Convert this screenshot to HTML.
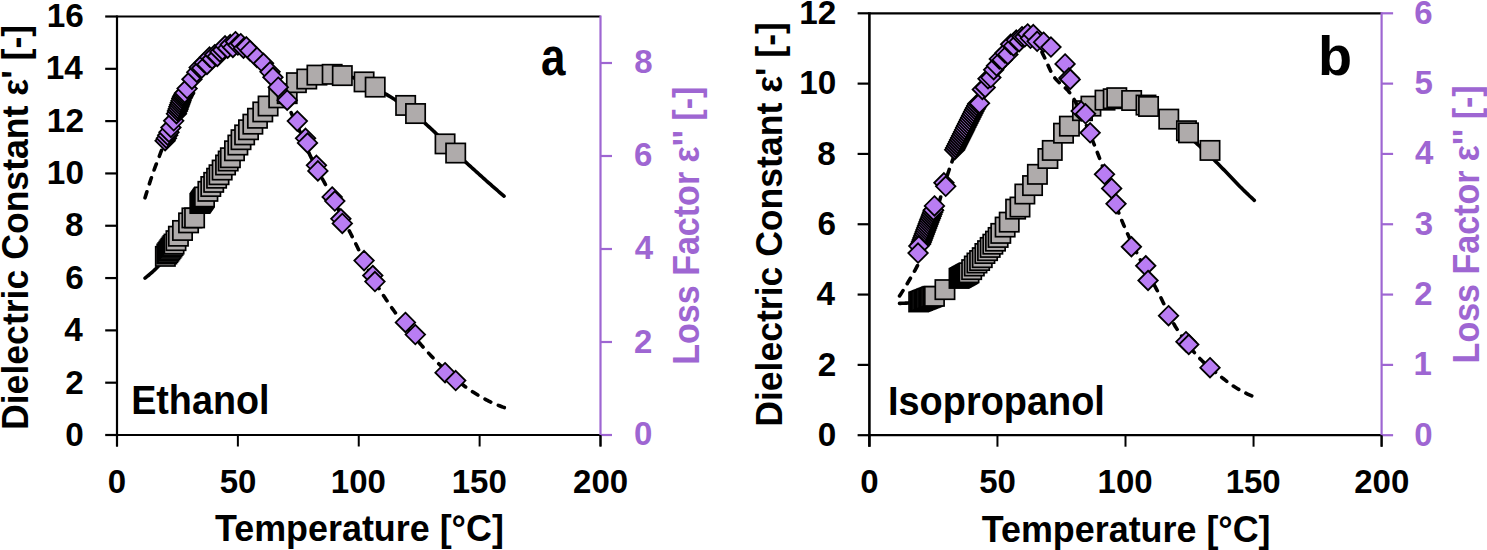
<!DOCTYPE html>
<html><head><meta charset="utf-8"><style>
html,body{margin:0;padding:0;background:#fff;width:1487px;height:550px;overflow:hidden;font-family:"Liberation Sans", sans-serif;}
</style></head><body>
<svg width="1487" height="550" viewBox="0 0 1487 550" style="position:absolute;left:0;top:0" font-family='"Liberation Sans", sans-serif' font-weight="bold">
<rect width="1487" height="550" fill="#fff"/>
<line x1="117.00" y1="16.50" x2="600.50" y2="16.50" stroke="#000" stroke-width="2.2"/>
<line x1="116.00" y1="435.00" x2="601.50" y2="435.00" stroke="#000" stroke-width="2.2"/>
<line x1="117.00" y1="435.00" x2="117.00" y2="446.50" stroke="#000" stroke-width="2.0"/>
<line x1="237.88" y1="435.00" x2="237.88" y2="446.50" stroke="#000" stroke-width="2.0"/>
<line x1="358.75" y1="435.00" x2="358.75" y2="446.50" stroke="#000" stroke-width="2.0"/>
<line x1="479.62" y1="435.00" x2="479.62" y2="446.50" stroke="#000" stroke-width="2.0"/>
<line x1="600.50" y1="435.00" x2="600.50" y2="446.50" stroke="#000" stroke-width="2.0"/>
<line x1="105.20" y1="435.00" x2="117.00" y2="435.00" stroke="#000" stroke-width="2.2"/>
<line x1="105.20" y1="382.69" x2="117.00" y2="382.69" stroke="#000" stroke-width="2.2"/>
<line x1="105.20" y1="330.38" x2="117.00" y2="330.38" stroke="#000" stroke-width="2.2"/>
<line x1="105.20" y1="278.06" x2="117.00" y2="278.06" stroke="#000" stroke-width="2.2"/>
<line x1="105.20" y1="225.75" x2="117.00" y2="225.75" stroke="#000" stroke-width="2.2"/>
<line x1="105.20" y1="173.44" x2="117.00" y2="173.44" stroke="#000" stroke-width="2.2"/>
<line x1="105.20" y1="121.12" x2="117.00" y2="121.12" stroke="#000" stroke-width="2.2"/>
<line x1="105.20" y1="68.81" x2="117.00" y2="68.81" stroke="#000" stroke-width="2.2"/>
<line x1="105.20" y1="16.50" x2="117.00" y2="16.50" stroke="#000" stroke-width="2.2"/>
<line x1="117.00" y1="15.40" x2="117.00" y2="446.50" stroke="#000" stroke-width="2.2"/>
<line x1="600.50" y1="435.00" x2="612.00" y2="435.00" stroke="#9E66D2" stroke-width="2.2"/>
<line x1="600.50" y1="342.00" x2="612.00" y2="342.00" stroke="#9E66D2" stroke-width="2.2"/>
<line x1="600.50" y1="249.00" x2="612.00" y2="249.00" stroke="#9E66D2" stroke-width="2.2"/>
<line x1="600.50" y1="156.00" x2="612.00" y2="156.00" stroke="#9E66D2" stroke-width="2.2"/>
<line x1="600.50" y1="63.00" x2="612.00" y2="63.00" stroke="#9E66D2" stroke-width="2.2"/>
<line x1="600.50" y1="15.40" x2="600.50" y2="435.00" stroke="#9E66D2" stroke-width="2.2"/>
<line x1="600.50" y1="435.00" x2="600.50" y2="446.50" stroke="#000" stroke-width="2.0"/>
<polyline points="145.04,278.06 146.24,277.15 147.44,276.20 148.64,275.23 149.85,274.22 151.05,273.18 152.25,272.11 153.45,271.01 154.65,269.89 155.85,268.75 157.05,267.57 158.25,266.35 159.45,265.09 160.65,263.80 161.85,262.47 163.05,261.12 164.25,259.73 165.45,258.32 166.65,256.89 167.86,255.44 169.06,253.97 170.26,252.48 171.46,250.98 172.66,249.45 173.86,247.90 175.06,246.34 176.26,244.75 177.46,243.14 178.66,241.51 179.86,239.86 181.06,238.19 182.26,236.49 183.46,234.77 184.66,233.03 185.87,231.27 187.07,229.48 188.27,227.67 189.47,225.84 190.67,223.96 191.87,222.01 193.07,220.01 194.27,217.95 195.47,215.84 196.67,213.69 197.87,211.51 199.07,209.30 200.27,207.07 201.47,204.83 202.67,202.57 203.88,200.32 205.08,198.06 206.28,195.82 207.48,193.60 208.68,191.40 209.88,189.23 211.08,187.09 212.28,185.00 213.48,182.96 214.68,180.96 215.88,178.97 217.08,177.00 218.28,175.04 219.48,173.09 220.68,171.15 221.89,169.23 223.09,167.32 224.29,165.42 225.49,163.53 226.69,161.66 227.89,159.79 229.09,157.94 230.29,156.09 231.49,154.26 232.69,152.44 233.89,150.62 235.09,148.82 236.29,147.02 237.49,145.23 238.69,143.45 239.90,141.65 241.10,139.84 242.30,138.03 243.50,136.21 244.70,134.39 245.90,132.58 247.10,130.78 248.30,128.99 249.50,127.22 250.70,125.47 251.90,123.74 253.10,122.04 254.30,120.38 255.50,118.75 256.70,117.16 257.91,115.61 259.11,114.11 260.31,112.66 261.51,111.27 262.71,109.93 263.91,108.61 265.11,107.30 266.31,106.01 267.51,104.74 268.71,103.49 269.91,102.25 271.11,101.05 272.31,99.86 273.51,98.70 274.71,97.57 275.92,96.47 277.12,95.39 278.32,94.35 279.52,93.35 280.72,92.38 281.92,91.45 283.12,90.55 284.32,89.70 285.52,88.89 286.72,88.11 287.92,87.35 289.12,86.58 290.32,85.81 291.52,85.06 292.72,84.31 293.93,83.58 295.13,82.86 296.33,82.16 297.53,81.49 298.73,80.84 299.93,80.23 301.13,79.65 302.33,79.10 303.53,78.60 304.73,78.14 305.93,77.72 307.13,77.36 308.33,77.05 309.53,76.80 310.73,76.61 311.94,76.44 313.14,76.27 314.34,76.11 315.54,75.95 316.74,75.80 317.94,75.65 319.14,75.51 320.34,75.38 321.54,75.26 322.74,75.15 323.94,75.04 325.14,74.94 326.34,74.86 327.54,74.78 328.74,74.72 329.95,74.66 331.15,74.62 332.35,74.59 333.55,74.57 334.75,74.57 335.95,74.59 337.15,74.65 338.35,74.73 339.55,74.85 340.75,75.00 341.95,75.17 343.15,75.36 344.35,75.58 345.55,75.82 346.75,76.08 347.96,76.35 349.16,76.64 350.36,76.94 351.56,77.26 352.76,77.58 353.96,77.91 355.16,78.25 356.36,78.59 357.56,78.93 358.76,79.28 359.96,79.65 361.16,80.07 362.36,80.54 363.56,81.06 364.76,81.61 365.97,82.20 367.17,82.82 368.37,83.48 369.57,84.15 370.77,84.85 371.97,85.57 373.17,86.31 374.37,87.05 375.57,87.80 376.77,88.56 377.97,89.31 379.17,90.07 380.37,90.81 381.57,91.54 382.77,92.26 383.98,92.97 385.18,93.69 386.38,94.40 387.58,95.13 388.78,95.85 389.98,96.59 391.18,97.33 392.38,98.08 393.58,98.83 394.78,99.59 395.98,100.37 397.18,101.15 398.38,101.94 399.58,102.74 400.78,103.56 401.99,104.38 403.19,105.22 404.39,106.07 405.59,106.94 406.79,107.82 407.99,108.71 409.19,109.63 410.39,110.57 411.59,111.53 412.79,112.51 413.99,113.51 415.19,114.52 416.39,115.54 417.59,116.58 418.79,117.64 420.00,118.70 421.20,119.77 422.40,120.85 423.60,121.94 424.80,123.03 426.00,124.13 427.20,125.23 428.40,126.33 429.60,127.44 430.80,128.54 432.00,129.64 433.20,130.76 434.40,131.89 435.60,133.04 436.80,134.20 438.01,135.36 439.21,136.54 440.41,137.72 441.61,138.91 442.81,140.10 444.01,141.30 445.21,142.49 446.41,143.69 447.61,144.88 448.81,146.07 450.01,147.25 451.21,148.43 452.41,149.60 453.61,150.76 454.81,151.91 456.02,153.05 457.22,154.18 458.42,155.31 459.62,156.43 460.82,157.55 462.02,158.67 463.22,159.79 464.42,160.90 465.62,162.01 466.82,163.11 468.02,164.22 469.22,165.32 470.42,166.41 471.62,167.51 472.82,168.60 474.03,169.69 475.23,170.78 476.43,171.86 477.63,172.95 478.83,174.03 480.03,175.11 481.23,176.18 482.43,177.26 483.63,178.33 484.83,179.40 486.03,180.47 487.23,181.53 488.43,182.60 489.63,183.66 490.83,184.72 492.04,185.77 493.24,186.82 494.44,187.88 495.64,188.92 496.84,189.97 498.04,191.01 499.24,192.05 500.44,193.09 501.64,194.13 502.84,195.16 504.04,196.19" fill="none" stroke="#000" stroke-width="3.6" stroke-linecap="round" stroke-linejoin="round"/>
<rect x="155.70" y="246.70" width="19.30" height="19.30" fill="#AFABAB" stroke="#000" stroke-width="1.7"/>
<rect x="157.15" y="244.35" width="19.30" height="19.30" fill="#AFABAB" stroke="#000" stroke-width="1.7"/>
<rect x="158.19" y="242.93" width="19.30" height="19.30" fill="#AFABAB" stroke="#000" stroke-width="1.7"/>
<rect x="159.22" y="241.51" width="19.30" height="19.30" fill="#AFABAB" stroke="#000" stroke-width="1.7"/>
<rect x="160.26" y="240.09" width="19.30" height="19.30" fill="#AFABAB" stroke="#000" stroke-width="1.7"/>
<rect x="161.29" y="238.67" width="19.30" height="19.30" fill="#AFABAB" stroke="#000" stroke-width="1.7"/>
<rect x="162.33" y="237.25" width="19.30" height="19.30" fill="#AFABAB" stroke="#000" stroke-width="1.7"/>
<rect x="163.37" y="235.83" width="19.30" height="19.30" fill="#AFABAB" stroke="#000" stroke-width="1.7"/>
<rect x="164.40" y="234.41" width="19.30" height="19.30" fill="#AFABAB" stroke="#000" stroke-width="1.7"/>
<rect x="166.34" y="231.01" width="19.30" height="19.30" fill="#AFABAB" stroke="#000" stroke-width="1.7"/>
<rect x="168.75" y="226.56" width="19.30" height="19.30" fill="#AFABAB" stroke="#000" stroke-width="1.7"/>
<rect x="172.86" y="220.81" width="19.30" height="19.30" fill="#AFABAB" stroke="#000" stroke-width="1.7"/>
<rect x="178.91" y="213.22" width="19.30" height="19.30" fill="#AFABAB" stroke="#000" stroke-width="1.7"/>
<rect x="182.29" y="208.25" width="19.30" height="19.30" fill="#AFABAB" stroke="#000" stroke-width="1.7"/>
<rect x="184.95" y="208.25" width="19.30" height="19.30" fill="#AFABAB" stroke="#000" stroke-width="1.7"/>
<rect x="190.27" y="193.87" width="19.30" height="19.30" fill="#AFABAB" stroke="#000" stroke-width="1.7"/>
<rect x="190.69" y="193.27" width="19.30" height="19.30" fill="#AFABAB" stroke="#000" stroke-width="1.7"/>
<rect x="191.11" y="192.68" width="19.30" height="19.30" fill="#AFABAB" stroke="#000" stroke-width="1.7"/>
<rect x="191.52" y="192.08" width="19.30" height="19.30" fill="#AFABAB" stroke="#000" stroke-width="1.7"/>
<rect x="191.94" y="191.49" width="19.30" height="19.30" fill="#AFABAB" stroke="#000" stroke-width="1.7"/>
<rect x="192.36" y="190.89" width="19.30" height="19.30" fill="#AFABAB" stroke="#000" stroke-width="1.7"/>
<rect x="192.78" y="190.30" width="19.30" height="19.30" fill="#AFABAB" stroke="#000" stroke-width="1.7"/>
<rect x="193.19" y="189.71" width="19.30" height="19.30" fill="#AFABAB" stroke="#000" stroke-width="1.7"/>
<rect x="193.61" y="189.11" width="19.30" height="19.30" fill="#AFABAB" stroke="#000" stroke-width="1.7"/>
<rect x="194.03" y="188.52" width="19.30" height="19.30" fill="#AFABAB" stroke="#000" stroke-width="1.7"/>
<rect x="194.45" y="187.92" width="19.30" height="19.30" fill="#AFABAB" stroke="#000" stroke-width="1.7"/>
<rect x="194.86" y="187.33" width="19.30" height="19.30" fill="#AFABAB" stroke="#000" stroke-width="1.7"/>
<rect x="198.25" y="181.69" width="19.30" height="19.30" fill="#AFABAB" stroke="#000" stroke-width="1.7"/>
<rect x="201.15" y="176.87" width="19.30" height="19.30" fill="#AFABAB" stroke="#000" stroke-width="1.7"/>
<rect x="204.05" y="172.71" width="19.30" height="19.30" fill="#AFABAB" stroke="#000" stroke-width="1.7"/>
<rect x="206.95" y="168.56" width="19.30" height="19.30" fill="#AFABAB" stroke="#000" stroke-width="1.7"/>
<rect x="209.37" y="165.10" width="19.30" height="19.30" fill="#AFABAB" stroke="#000" stroke-width="1.7"/>
<rect x="212.51" y="160.39" width="19.30" height="19.30" fill="#AFABAB" stroke="#000" stroke-width="1.7"/>
<rect x="215.90" y="155.33" width="19.30" height="19.30" fill="#AFABAB" stroke="#000" stroke-width="1.7"/>
<rect x="218.55" y="151.35" width="19.30" height="19.30" fill="#AFABAB" stroke="#000" stroke-width="1.7"/>
<rect x="220.73" y="148.09" width="19.30" height="19.30" fill="#AFABAB" stroke="#000" stroke-width="1.7"/>
<rect x="224.84" y="141.12" width="19.30" height="19.30" fill="#AFABAB" stroke="#000" stroke-width="1.7"/>
<rect x="228.22" y="135.38" width="19.30" height="19.30" fill="#AFABAB" stroke="#000" stroke-width="1.7"/>
<rect x="231.37" y="130.05" width="19.30" height="19.30" fill="#AFABAB" stroke="#000" stroke-width="1.7"/>
<rect x="234.99" y="125.24" width="19.30" height="19.30" fill="#AFABAB" stroke="#000" stroke-width="1.7"/>
<rect x="238.86" y="120.11" width="19.30" height="19.30" fill="#AFABAB" stroke="#000" stroke-width="1.7"/>
<rect x="243.21" y="114.51" width="19.30" height="19.30" fill="#AFABAB" stroke="#000" stroke-width="1.7"/>
<rect x="247.81" y="108.60" width="19.30" height="19.30" fill="#AFABAB" stroke="#000" stroke-width="1.7"/>
<rect x="253.13" y="102.27" width="19.30" height="19.30" fill="#AFABAB" stroke="#000" stroke-width="1.7"/>
<rect x="258.44" y="96.35" width="19.30" height="19.30" fill="#AFABAB" stroke="#000" stroke-width="1.7"/>
<rect x="269.08" y="88.22" width="19.30" height="19.30" fill="#AFABAB" stroke="#000" stroke-width="1.7"/>
<rect x="277.54" y="84.01" width="19.30" height="19.30" fill="#AFABAB" stroke="#000" stroke-width="1.7"/>
<rect x="286.73" y="73.03" width="19.30" height="19.30" fill="#AFABAB" stroke="#000" stroke-width="1.7"/>
<rect x="297.12" y="69.36" width="19.30" height="19.30" fill="#AFABAB" stroke="#000" stroke-width="1.7"/>
<rect x="307.28" y="65.44" width="19.30" height="19.30" fill="#AFABAB" stroke="#000" stroke-width="1.7"/>
<rect x="322.51" y="64.66" width="19.30" height="19.30" fill="#AFABAB" stroke="#000" stroke-width="1.7"/>
<rect x="332.66" y="65.96" width="19.30" height="19.30" fill="#AFABAB" stroke="#000" stroke-width="1.7"/>
<rect x="354.42" y="72.24" width="19.30" height="19.30" fill="#AFABAB" stroke="#000" stroke-width="1.7"/>
<rect x="365.54" y="77.47" width="19.30" height="19.30" fill="#AFABAB" stroke="#000" stroke-width="1.7"/>
<rect x="396.00" y="95.78" width="19.30" height="19.30" fill="#AFABAB" stroke="#000" stroke-width="1.7"/>
<rect x="405.91" y="103.89" width="19.30" height="19.30" fill="#AFABAB" stroke="#000" stroke-width="1.7"/>
<rect x="435.40" y="134.23" width="19.30" height="19.30" fill="#AFABAB" stroke="#000" stroke-width="1.7"/>
<rect x="446.04" y="143.39" width="19.30" height="19.30" fill="#AFABAB" stroke="#000" stroke-width="1.7"/>
<polyline points="145.04,197.85 146.24,193.86 147.45,189.96 148.65,186.14 149.85,182.40 151.05,178.75 152.25,175.20 153.45,171.73 154.65,168.41 155.86,165.22 157.06,162.11 158.26,159.03 159.46,155.92 160.66,152.73 161.86,149.41 163.07,145.95 164.27,142.41 165.47,138.84 166.67,135.32 167.87,131.89 169.07,128.62 170.27,125.56 171.48,122.68 172.68,119.92 173.88,117.26 175.08,114.68 176.28,112.16 177.48,109.68 178.68,107.23 179.89,104.79 181.09,102.35 182.29,99.92 183.49,97.52 184.69,95.16 185.89,92.85 187.09,90.59 188.30,88.40 189.50,86.30 190.70,84.25 191.90,82.24 193.10,80.27 194.30,78.33 195.50,76.45 196.71,74.61 197.91,72.82 199.11,71.08 200.31,69.40 201.51,67.78 202.71,66.20 203.92,64.64 205.12,63.11 206.32,61.61 207.52,60.15 208.72,58.75 209.92,57.41 211.12,56.14 212.33,54.95 213.53,53.85 214.73,52.80 215.93,51.75 217.13,50.71 218.33,49.70 219.53,48.75 220.74,47.86 221.94,47.06 223.14,46.37 224.34,45.81 225.54,45.40 226.74,45.09 227.94,44.81 229.15,44.54 230.35,44.29 231.55,44.07 232.75,43.87 233.95,43.71 235.15,43.59 236.35,43.51 237.56,43.47 238.76,43.52 239.96,43.72 241.16,44.08 242.36,44.55 243.56,45.13 244.77,45.79 245.97,46.51 247.17,47.26 248.37,48.04 249.57,48.80 250.77,49.58 251.97,50.45 253.18,51.42 254.38,52.47 255.58,53.60 256.78,54.80 257.98,56.06 259.18,57.37 260.38,58.73 261.59,60.13 262.79,61.57 263.99,63.13 265.19,64.79 266.39,66.55 267.59,68.39 268.79,70.30 270.00,72.27 271.20,74.27 272.40,76.31 273.60,78.36 274.80,80.42 276.00,82.56 277.21,84.76 278.41,87.02 279.61,89.32 280.81,91.67 282.01,94.05 283.21,96.45 284.41,98.87 285.62,101.30 286.82,103.72 288.02,106.17 289.22,108.64 290.42,111.14 291.62,113.66 292.82,116.20 294.03,118.77 295.23,121.36 296.43,123.97 297.63,126.60 298.83,129.25 300.03,131.99 301.23,134.79 302.44,137.64 303.64,140.50 304.84,143.37 306.04,146.22 307.24,149.02 308.44,151.75 309.64,154.39 310.85,156.93 312.05,159.39 313.25,161.78 314.45,164.13 315.65,166.43 316.85,168.69 318.06,170.93 319.26,173.14 320.46,175.35 321.66,177.55 322.86,179.75 324.06,181.96 325.26,184.19 326.47,186.45 327.67,188.75 328.87,191.06 330.07,193.38 331.27,195.70 332.47,198.02 333.67,200.34 334.88,202.67 336.08,205.00 337.28,207.33 338.48,209.67 339.68,212.01 340.88,214.36 342.08,216.71 343.29,219.06 344.49,221.42 345.69,223.78 346.89,226.15 348.09,228.52 349.29,230.90 350.49,233.28 351.70,235.67 352.90,238.06 354.10,240.46 355.30,242.87 356.50,245.32 357.70,247.81 358.91,250.33 360.11,252.87 361.31,255.42 362.51,257.96 363.71,260.49 364.91,262.99 366.11,265.46 367.32,267.88 368.52,270.23 369.72,272.52 370.92,274.72 372.12,276.87 373.32,278.97 374.52,281.04 375.73,283.08 376.93,285.09 378.13,287.06 379.33,289.01 380.53,290.93 381.73,292.82 382.93,294.68 384.14,296.53 385.34,298.35 386.54,300.15 387.74,301.94 388.94,303.70 390.14,305.45 391.35,307.18 392.55,308.89 393.75,310.57 394.95,312.23 396.15,313.87 397.35,315.49 398.55,317.10 399.76,318.68 400.96,320.25 402.16,321.80 403.36,323.34 404.56,324.87 405.76,326.38 406.96,327.88 408.17,329.37 409.37,330.85 410.57,332.32 411.77,333.79 412.97,335.24 414.17,336.68 415.37,338.11 416.58,339.54 417.78,340.95 418.98,342.34 420.18,343.73 421.38,345.11 422.58,346.47 423.78,347.82 424.99,349.16 426.19,350.49 427.39,351.80 428.59,353.10 429.79,354.38 430.99,355.65 432.20,356.92 433.40,358.17 434.60,359.43 435.80,360.68 437.00,361.92 438.20,363.16 439.40,364.39 440.61,365.60 441.81,366.81 443.01,368.00 444.21,369.18 445.41,370.34 446.61,371.48 447.81,372.60 449.02,373.71 450.22,374.79 451.42,375.84 452.62,376.88 453.82,377.88 455.02,378.86 456.22,379.81 457.43,380.75 458.63,381.69 459.83,382.61 461.03,383.52 462.23,384.43 463.43,385.32 464.63,386.20 465.84,387.07 467.04,387.92 468.24,388.77 469.44,389.60 470.64,390.42 471.84,391.23 473.05,392.02 474.25,392.81 475.45,393.57 476.65,394.33 477.85,395.06 479.05,395.79 480.25,396.50 481.46,397.19 482.66,397.87 483.86,398.53 485.06,399.18 486.26,399.81 487.46,400.42 488.66,401.02 489.87,401.61 491.07,402.18 492.27,402.74 493.47,403.28 494.67,403.82 495.87,404.33 497.07,404.84 498.28,405.33 499.48,405.80 500.68,406.27 501.88,406.71 503.08,407.15 504.28,407.56" fill="none" stroke="#000" stroke-width="3.6" stroke-dasharray="6.400 8.242" stroke-linecap="round" stroke-linejoin="round"/>
<path d="M165.11,130.91L174.85,140.65L165.11,150.39L155.37,140.65Z" fill="#B97DF3" stroke="#000" stroke-width="1.8" stroke-linejoin="miter"/>
<path d="M166.40,128.43L176.14,138.17L166.40,147.91L156.66,138.17Z" fill="#B97DF3" stroke="#000" stroke-width="1.8" stroke-linejoin="miter"/>
<path d="M167.69,125.53L177.43,135.27L167.69,145.01L157.95,135.27Z" fill="#B97DF3" stroke="#000" stroke-width="1.8" stroke-linejoin="miter"/>
<path d="M168.98,122.43L178.72,132.17L168.98,141.91L159.24,132.17Z" fill="#B97DF3" stroke="#000" stroke-width="1.8" stroke-linejoin="miter"/>
<path d="M170.91,117.78L180.65,127.52L170.91,137.26L161.17,127.52Z" fill="#B97DF3" stroke="#000" stroke-width="1.8" stroke-linejoin="miter"/>
<path d="M173.69,111.09L183.43,120.83L173.69,130.57L163.95,120.83Z" fill="#B97DF3" stroke="#000" stroke-width="1.8" stroke-linejoin="miter"/>
<path d="M176.47,103.98L186.21,113.72L176.47,123.46L166.73,113.72Z" fill="#B97DF3" stroke="#000" stroke-width="1.8" stroke-linejoin="miter"/>
<path d="M177.44,101.22L187.18,110.96L177.44,120.70L167.70,110.96Z" fill="#B97DF3" stroke="#000" stroke-width="1.8" stroke-linejoin="miter"/>
<path d="M178.16,99.16L187.90,108.90L178.16,118.64L168.42,108.90Z" fill="#B97DF3" stroke="#000" stroke-width="1.8" stroke-linejoin="miter"/>
<path d="M178.89,97.09L188.63,106.83L178.89,116.57L169.15,106.83Z" fill="#B97DF3" stroke="#000" stroke-width="1.8" stroke-linejoin="miter"/>
<path d="M179.61,95.02L189.35,104.76L179.61,114.50L169.87,104.76Z" fill="#B97DF3" stroke="#000" stroke-width="1.8" stroke-linejoin="miter"/>
<path d="M180.34,92.96L190.08,102.70L180.34,112.44L170.60,102.70Z" fill="#B97DF3" stroke="#000" stroke-width="1.8" stroke-linejoin="miter"/>
<path d="M181.06,90.89L190.80,100.63L181.06,110.37L171.32,100.63Z" fill="#B97DF3" stroke="#000" stroke-width="1.8" stroke-linejoin="miter"/>
<path d="M181.79,88.82L191.53,98.56L181.79,108.30L172.05,98.56Z" fill="#B97DF3" stroke="#000" stroke-width="1.8" stroke-linejoin="miter"/>
<path d="M182.51,87.25L192.25,96.99L182.51,106.73L172.77,96.99Z" fill="#B97DF3" stroke="#000" stroke-width="1.8" stroke-linejoin="miter"/>
<path d="M183.24,85.92L192.98,95.66L183.24,105.40L173.50,95.66Z" fill="#B97DF3" stroke="#000" stroke-width="1.8" stroke-linejoin="miter"/>
<path d="M183.96,84.59L193.70,94.33L183.96,104.07L174.22,94.33Z" fill="#B97DF3" stroke="#000" stroke-width="1.8" stroke-linejoin="miter"/>
<path d="M184.69,83.26L194.43,93.00L184.69,102.74L174.95,93.00Z" fill="#B97DF3" stroke="#000" stroke-width="1.8" stroke-linejoin="miter"/>
<path d="M187.11,78.83L196.85,88.57L187.11,98.31L177.37,88.57Z" fill="#B97DF3" stroke="#000" stroke-width="1.8" stroke-linejoin="miter"/>
<path d="M191.94,69.51L201.68,79.25L191.94,88.99L182.20,79.25Z" fill="#B97DF3" stroke="#000" stroke-width="1.8" stroke-linejoin="miter"/>
<path d="M196.78,62.42L206.52,72.16L196.78,81.90L187.04,72.16Z" fill="#B97DF3" stroke="#000" stroke-width="1.8" stroke-linejoin="miter"/>
<path d="M199.19,57.72L208.94,67.46L199.19,77.20L189.45,67.46Z" fill="#B97DF3" stroke="#000" stroke-width="1.8" stroke-linejoin="miter"/>
<path d="M201.79,58.36L211.53,68.10L201.79,77.84L192.05,68.10Z" fill="#B97DF3" stroke="#000" stroke-width="1.8" stroke-linejoin="miter"/>
<path d="M204.38,52.97L214.12,62.71L204.38,72.45L194.64,62.71Z" fill="#B97DF3" stroke="#000" stroke-width="1.8" stroke-linejoin="miter"/>
<path d="M206.97,54.70L216.71,64.44L206.97,74.18L197.23,64.44Z" fill="#B97DF3" stroke="#000" stroke-width="1.8" stroke-linejoin="miter"/>
<path d="M209.56,47.32L219.30,57.06L209.56,66.80L199.82,57.06Z" fill="#B97DF3" stroke="#000" stroke-width="1.8" stroke-linejoin="miter"/>
<path d="M212.15,49.06L221.89,58.80L212.15,68.54L202.41,58.80Z" fill="#B97DF3" stroke="#000" stroke-width="1.8" stroke-linejoin="miter"/>
<path d="M214.74,44.94L224.48,54.68L214.74,64.42L205.00,54.68Z" fill="#B97DF3" stroke="#000" stroke-width="1.8" stroke-linejoin="miter"/>
<path d="M217.33,46.64L227.07,56.38L217.33,66.12L207.59,56.38Z" fill="#B97DF3" stroke="#000" stroke-width="1.8" stroke-linejoin="miter"/>
<path d="M219.92,42.14L229.66,51.88L219.92,61.62L210.18,51.88Z" fill="#B97DF3" stroke="#000" stroke-width="1.8" stroke-linejoin="miter"/>
<path d="M222.51,40.25L232.25,49.99L222.51,59.73L212.77,49.99Z" fill="#B97DF3" stroke="#000" stroke-width="1.8" stroke-linejoin="miter"/>
<path d="M225.10,36.09L234.84,45.83L225.10,55.57L215.36,45.83Z" fill="#B97DF3" stroke="#000" stroke-width="1.8" stroke-linejoin="miter"/>
<path d="M227.69,38.40L237.43,48.14L227.69,57.88L217.95,48.14Z" fill="#B97DF3" stroke="#000" stroke-width="1.8" stroke-linejoin="miter"/>
<path d="M230.28,34.87L240.02,44.61L230.28,54.35L220.54,44.61Z" fill="#B97DF3" stroke="#000" stroke-width="1.8" stroke-linejoin="miter"/>
<path d="M232.87,37.68L242.61,47.42L232.87,57.16L223.13,47.42Z" fill="#B97DF3" stroke="#000" stroke-width="1.8" stroke-linejoin="miter"/>
<path d="M235.46,31.93L245.20,41.67L235.46,51.41L225.72,41.67Z" fill="#B97DF3" stroke="#000" stroke-width="1.8" stroke-linejoin="miter"/>
<path d="M237.88,35.31L247.62,45.05L237.88,54.79L228.13,45.05Z" fill="#B97DF3" stroke="#000" stroke-width="1.8" stroke-linejoin="miter"/>
<path d="M240.70,33.96L250.44,43.70L240.70,53.44L230.96,43.70Z" fill="#B97DF3" stroke="#000" stroke-width="1.8" stroke-linejoin="miter"/>
<path d="M243.52,38.47L253.26,48.21L243.52,57.95L233.78,48.21Z" fill="#B97DF3" stroke="#000" stroke-width="1.8" stroke-linejoin="miter"/>
<path d="M246.34,37.12L256.08,46.86L246.34,56.60L236.60,46.86Z" fill="#B97DF3" stroke="#000" stroke-width="1.8" stroke-linejoin="miter"/>
<path d="M249.96,40.94L259.70,50.68L249.96,60.42L240.22,50.68Z" fill="#B97DF3" stroke="#000" stroke-width="1.8" stroke-linejoin="miter"/>
<path d="M256.97,47.65L266.71,57.39L256.97,67.13L247.23,57.39Z" fill="#B97DF3" stroke="#000" stroke-width="1.8" stroke-linejoin="miter"/>
<path d="M263.50,53.58L273.24,63.32L263.50,73.06L253.76,63.32Z" fill="#B97DF3" stroke="#000" stroke-width="1.8" stroke-linejoin="miter"/>
<path d="M270.03,62.10L279.77,71.84L270.03,81.58L260.29,71.84Z" fill="#B97DF3" stroke="#000" stroke-width="1.8" stroke-linejoin="miter"/>
<path d="M272.93,67.51L282.67,77.25L272.93,86.99L263.19,77.25Z" fill="#B97DF3" stroke="#000" stroke-width="1.8" stroke-linejoin="miter"/>
<path d="M278.25,77.44L287.99,87.18L278.25,96.92L268.51,87.18Z" fill="#B97DF3" stroke="#000" stroke-width="1.8" stroke-linejoin="miter"/>
<path d="M287.19,90.46L296.93,100.20L287.19,109.94L277.45,100.20Z" fill="#B97DF3" stroke="#000" stroke-width="1.8" stroke-linejoin="miter"/>
<path d="M297.35,111.39L307.09,121.12L297.35,130.87L287.61,121.12Z" fill="#B97DF3" stroke="#000" stroke-width="1.8" stroke-linejoin="miter"/>
<path d="M305.56,128.59L315.31,138.33L305.56,148.07L295.82,138.33Z" fill="#B97DF3" stroke="#000" stroke-width="1.8" stroke-linejoin="miter"/>
<path d="M307.50,133.24L317.24,142.98L307.50,152.72L297.76,142.98Z" fill="#B97DF3" stroke="#000" stroke-width="1.8" stroke-linejoin="miter"/>
<path d="M316.44,155.56L326.18,165.30L316.44,175.04L306.70,165.30Z" fill="#B97DF3" stroke="#000" stroke-width="1.8" stroke-linejoin="miter"/>
<path d="M317.89,161.14L327.63,170.88L317.89,180.62L308.15,170.88Z" fill="#B97DF3" stroke="#000" stroke-width="1.8" stroke-linejoin="miter"/>
<path d="M332.16,187.18L341.90,196.92L332.16,206.66L322.42,196.92Z" fill="#B97DF3" stroke="#000" stroke-width="1.8" stroke-linejoin="miter"/>
<path d="M334.82,191.36L344.56,201.10L334.82,210.84L325.08,201.10Z" fill="#B97DF3" stroke="#000" stroke-width="1.8" stroke-linejoin="miter"/>
<path d="M340.86,209.03L350.60,218.77L340.86,228.51L331.12,218.77Z" fill="#B97DF3" stroke="#000" stroke-width="1.8" stroke-linejoin="miter"/>
<path d="M342.31,213.69L352.05,223.43L342.31,233.17L332.57,223.43Z" fill="#B97DF3" stroke="#000" stroke-width="1.8" stroke-linejoin="miter"/>
<path d="M364.07,250.88L373.81,260.62L364.07,270.37L354.33,260.62Z" fill="#B97DF3" stroke="#000" stroke-width="1.8" stroke-linejoin="miter"/>
<path d="M372.77,265.76L382.51,275.50L372.77,285.25L363.03,275.50Z" fill="#B97DF3" stroke="#000" stroke-width="1.8" stroke-linejoin="miter"/>
<path d="M374.95,271.81L384.69,281.55L374.95,291.29L365.21,281.55Z" fill="#B97DF3" stroke="#000" stroke-width="1.8" stroke-linejoin="miter"/>
<path d="M405.41,312.73L415.15,322.47L405.41,332.21L395.67,322.47Z" fill="#B97DF3" stroke="#000" stroke-width="1.8" stroke-linejoin="miter"/>
<path d="M415.32,324.82L425.06,334.56L415.32,344.30L405.58,334.56Z" fill="#B97DF3" stroke="#000" stroke-width="1.8" stroke-linejoin="miter"/>
<path d="M445.05,362.95L454.79,372.69L445.05,382.43L435.31,372.69Z" fill="#B97DF3" stroke="#000" stroke-width="1.8" stroke-linejoin="miter"/>
<path d="M455.69,370.86L465.43,380.60L455.69,390.34L445.95,380.60Z" fill="#B97DF3" stroke="#000" stroke-width="1.8" stroke-linejoin="miter"/>
<text transform="translate(65.35,445.65) scale(1.0000,1)" font-size="33.30" fill="#000">0</text>
<text transform="translate(65.35,393.50) scale(1.0000,1)" font-size="33.30" fill="#000">2</text>
<text transform="translate(64.19,341.02) scale(1.0000,1)" font-size="33.30" fill="#000">4</text>
<text transform="translate(65.18,288.71) scale(1.0000,1)" font-size="33.30" fill="#000">6</text>
<text transform="translate(65.02,236.40) scale(1.0000,1)" font-size="33.30" fill="#000">8</text>
<text transform="translate(46.87,184.08) scale(1.0000,1)" font-size="33.30" fill="#000">10</text>
<text transform="translate(46.87,131.94) scale(1.0000,1)" font-size="33.30" fill="#000">12</text>
<text transform="translate(45.70,79.46) scale(1.0000,1)" font-size="33.30" fill="#000">14</text>
<text transform="translate(46.70,27.15) scale(1.0000,1)" font-size="33.30" fill="#000">16</text>
<text transform="translate(107.84,493.34) scale(1.0000,1)" font-size="33.00" fill="#000">0</text>
<text transform="translate(219.68,493.34) scale(1.0000,1)" font-size="33.00" fill="#000">50</text>
<text transform="translate(330.87,493.34) scale(1.0000,1)" font-size="33.00" fill="#000">100</text>
<text transform="translate(451.74,493.34) scale(1.0000,1)" font-size="33.00" fill="#000">150</text>
<text transform="translate(573.07,493.34) scale(1.0000,1)" font-size="33.00" fill="#000">200</text>
<text transform="translate(633.88,445.34) scale(1.0000,1)" font-size="33.00" fill="#9E66D2">0</text>
<text transform="translate(634.05,352.51) scale(1.0000,1)" font-size="33.00" fill="#9E66D2">2</text>
<text transform="translate(634.71,259.34) scale(1.0000,1)" font-size="33.00" fill="#9E66D2">4</text>
<text transform="translate(633.96,166.34) scale(1.0000,1)" font-size="33.00" fill="#9E66D2">6</text>
<text transform="translate(634.13,73.34) scale(1.0000,1)" font-size="33.00" fill="#9E66D2">8</text>
<text transform="translate(214.95,540.70) scale(0.9626,1)" font-size="37.30" fill="#000">Temperature [°C]</text>
<text transform="translate(28.00,430.00) rotate(-90) scale(0.9547,1)" font-size="37.30" fill="#000">Dielectric Constant ε' [-]</text>
<text transform="translate(699.20,364.70) rotate(-90) scale(0.9125,1)" font-size="37.30" fill="#9E66D2">Loss Factor ε'' [-]</text>
<text transform="translate(541.08,74.80) scale(0.8451,1)" font-size="52.00" fill="#000">a</text>
<text transform="translate(131.15,414.00) scale(0.9271,1)" font-size="40.70" fill="#000">Ethanol</text>
<line x1="869.40" y1="13.30" x2="1381.60" y2="13.30" stroke="#000" stroke-width="2.2"/>
<line x1="868.40" y1="435.20" x2="1382.60" y2="435.20" stroke="#000" stroke-width="2.2"/>
<line x1="869.40" y1="435.20" x2="869.40" y2="446.70" stroke="#000" stroke-width="2.0"/>
<line x1="997.45" y1="435.20" x2="997.45" y2="446.70" stroke="#000" stroke-width="2.0"/>
<line x1="1125.50" y1="435.20" x2="1125.50" y2="446.70" stroke="#000" stroke-width="2.0"/>
<line x1="1253.55" y1="435.20" x2="1253.55" y2="446.70" stroke="#000" stroke-width="2.0"/>
<line x1="1381.60" y1="435.20" x2="1381.60" y2="446.70" stroke="#000" stroke-width="2.0"/>
<line x1="857.60" y1="435.20" x2="869.40" y2="435.20" stroke="#000" stroke-width="2.2"/>
<line x1="857.60" y1="364.88" x2="869.40" y2="364.88" stroke="#000" stroke-width="2.2"/>
<line x1="857.60" y1="294.57" x2="869.40" y2="294.57" stroke="#000" stroke-width="2.2"/>
<line x1="857.60" y1="224.25" x2="869.40" y2="224.25" stroke="#000" stroke-width="2.2"/>
<line x1="857.60" y1="153.93" x2="869.40" y2="153.93" stroke="#000" stroke-width="2.2"/>
<line x1="857.60" y1="83.62" x2="869.40" y2="83.62" stroke="#000" stroke-width="2.2"/>
<line x1="857.60" y1="13.30" x2="869.40" y2="13.30" stroke="#000" stroke-width="2.2"/>
<line x1="869.40" y1="12.20" x2="869.40" y2="446.70" stroke="#000" stroke-width="2.6"/>
<line x1="1381.60" y1="435.20" x2="1393.10" y2="435.20" stroke="#9E66D2" stroke-width="2.2"/>
<line x1="1381.60" y1="364.88" x2="1393.10" y2="364.88" stroke="#9E66D2" stroke-width="2.2"/>
<line x1="1381.60" y1="294.57" x2="1393.10" y2="294.57" stroke="#9E66D2" stroke-width="2.2"/>
<line x1="1381.60" y1="224.25" x2="1393.10" y2="224.25" stroke="#9E66D2" stroke-width="2.2"/>
<line x1="1381.60" y1="153.93" x2="1393.10" y2="153.93" stroke="#9E66D2" stroke-width="2.2"/>
<line x1="1381.60" y1="83.62" x2="1393.10" y2="83.62" stroke="#9E66D2" stroke-width="2.2"/>
<line x1="1381.60" y1="13.30" x2="1393.10" y2="13.30" stroke="#9E66D2" stroke-width="2.2"/>
<line x1="1381.60" y1="12.20" x2="1381.60" y2="435.20" stroke="#9E66D2" stroke-width="2.2"/>
<line x1="1381.60" y1="435.20" x2="1381.60" y2="446.70" stroke="#000" stroke-width="2.0"/>
<polyline points="899.52,303.36 900.70,303.35 901.89,303.32 903.08,303.27 904.26,303.22 905.45,303.15 906.64,303.08 907.82,303.00 909.01,302.91 910.20,302.79 911.38,302.65 912.57,302.48 913.76,302.29 914.94,302.08 916.13,301.85 917.32,301.61 918.50,301.36 919.69,301.10 920.88,300.84 922.06,300.54 923.25,300.21 924.44,299.85 925.62,299.46 926.81,299.04 928.00,298.60 929.18,298.14 930.37,297.65 931.56,297.15 932.74,296.63 933.93,296.09 935.12,295.51 936.30,294.87 937.49,294.20 938.68,293.49 939.86,292.75 941.05,291.98 942.24,291.21 943.42,290.43 944.61,289.64 945.80,288.87 946.98,288.11 948.17,287.34 949.36,286.56 950.54,285.78 951.73,284.99 952.92,284.19 954.10,283.37 955.29,282.54 956.48,281.70 957.66,280.83 958.85,279.94 960.04,279.04 961.22,278.12 962.41,277.18 963.60,276.23 964.78,275.25 965.97,274.25 967.15,273.23 968.34,272.18 969.53,271.10 970.71,269.99 971.90,268.84 973.09,267.65 974.27,266.41 975.46,265.12 976.65,263.80 977.83,262.43 979.02,261.04 980.21,259.62 981.39,258.17 982.58,256.71 983.77,255.23 984.95,253.75 986.14,252.23 987.33,250.68 988.51,249.10 989.70,247.49 990.89,245.86 992.07,244.21 993.26,242.54 994.45,240.86 995.63,239.16 996.82,237.46 998.01,235.75 999.19,234.02 1000.38,232.28 1001.57,230.51 1002.75,228.73 1003.94,226.93 1005.13,225.12 1006.31,223.31 1007.50,221.48 1008.69,219.65 1009.87,217.81 1011.06,215.97 1012.25,214.10 1013.43,212.22 1014.62,210.33 1015.81,208.43 1016.99,206.53 1018.18,204.62 1019.37,202.71 1020.55,200.81 1021.74,198.92 1022.93,197.04 1024.11,195.17 1025.30,193.30 1026.49,191.44 1027.67,189.58 1028.86,187.73 1030.05,185.87 1031.23,184.02 1032.42,182.17 1033.61,180.32 1034.79,178.46 1035.98,176.61 1037.17,174.74 1038.35,172.87 1039.54,170.99 1040.73,169.11 1041.91,167.24 1043.10,165.36 1044.29,163.50 1045.47,161.65 1046.66,159.81 1047.85,158.00 1049.03,156.20 1050.22,154.41 1051.41,152.62 1052.59,150.84 1053.78,149.07 1054.97,147.31 1056.15,145.57 1057.34,143.86 1058.53,142.17 1059.71,140.51 1060.90,138.89 1062.09,137.30 1063.27,135.72 1064.46,134.17 1065.64,132.63 1066.83,131.11 1068.02,129.62 1069.20,128.15 1070.39,126.72 1071.58,125.32 1072.76,123.97 1073.95,122.65 1075.14,121.37 1076.32,120.10 1077.51,118.85 1078.70,117.62 1079.88,116.42 1081.07,115.25 1082.26,114.12 1083.44,113.02 1084.63,111.98 1085.82,110.99 1087.00,110.05 1088.19,109.14 1089.38,108.25 1090.56,107.38 1091.75,106.52 1092.94,105.70 1094.12,104.92 1095.31,104.18 1096.50,103.50 1097.68,102.88 1098.87,102.32 1100.06,101.83 1101.24,101.38 1102.43,100.91 1103.62,100.46 1104.80,100.03 1105.99,99.63 1107.18,99.26 1108.36,98.95 1109.55,98.69 1110.74,98.51 1111.92,98.40 1113.11,98.38 1114.30,98.41 1115.48,98.45 1116.67,98.52 1117.86,98.60 1119.04,98.70 1120.23,98.82 1121.42,98.94 1122.60,99.08 1123.79,99.22 1124.98,99.37 1126.16,99.53 1127.35,99.73 1128.54,99.97 1129.72,100.25 1130.91,100.56 1132.10,100.90 1133.28,101.27 1134.47,101.65 1135.66,102.04 1136.84,102.45 1138.03,102.86 1139.22,103.28 1140.40,103.74 1141.59,104.22 1142.78,104.74 1143.96,105.28 1145.15,105.85 1146.34,106.44 1147.52,107.04 1148.71,107.65 1149.90,108.28 1151.08,108.92 1152.27,109.57 1153.46,110.25 1154.64,110.95 1155.83,111.68 1157.02,112.42 1158.20,113.19 1159.39,113.96 1160.57,114.75 1161.76,115.55 1162.95,116.36 1164.13,117.17 1165.32,117.99 1166.51,118.83 1167.69,119.68 1168.88,120.54 1170.07,121.42 1171.25,122.31 1172.44,123.21 1173.63,124.11 1174.81,125.03 1176.00,125.95 1177.19,126.88 1178.37,127.81 1179.56,128.76 1180.75,129.71 1181.93,130.68 1183.12,131.65 1184.31,132.63 1185.49,133.63 1186.68,134.63 1187.87,135.63 1189.05,136.65 1190.24,137.68 1191.43,138.71 1192.61,139.76 1193.80,140.82 1194.99,141.89 1196.17,142.97 1197.36,144.06 1198.55,145.15 1199.73,146.24 1200.92,147.35 1202.11,148.45 1203.29,149.56 1204.48,150.68 1205.67,151.80 1206.85,152.93 1208.04,154.06 1209.23,155.20 1210.41,156.35 1211.60,157.50 1212.79,158.66 1213.97,159.82 1215.16,160.99 1216.35,162.17 1217.53,163.35 1218.72,164.54 1219.91,165.74 1221.09,166.95 1222.28,168.16 1223.47,169.37 1224.65,170.59 1225.84,171.81 1227.03,173.03 1228.21,174.25 1229.40,175.49 1230.59,176.73 1231.77,177.98 1232.96,179.24 1234.15,180.49 1235.33,181.75 1236.52,182.99 1237.71,184.23 1238.89,185.46 1240.08,186.66 1241.27,187.85 1242.45,189.03 1243.64,190.20 1244.83,191.36 1246.01,192.52 1247.20,193.66 1248.39,194.80 1249.57,195.93 1250.76,197.04 1251.95,198.15 1253.13,199.25 1254.32,200.34" fill="none" stroke="#000" stroke-width="3.6" stroke-linecap="round" stroke-linejoin="round"/>
<rect x="909.05" y="292.30" width="19.30" height="19.30" fill="#AFABAB" stroke="#000" stroke-width="1.7"/>
<rect x="910.34" y="291.79" width="19.30" height="19.30" fill="#AFABAB" stroke="#000" stroke-width="1.7"/>
<rect x="911.63" y="291.28" width="19.30" height="19.30" fill="#AFABAB" stroke="#000" stroke-width="1.7"/>
<rect x="912.93" y="290.77" width="19.30" height="19.30" fill="#AFABAB" stroke="#000" stroke-width="1.7"/>
<rect x="914.22" y="290.25" width="19.30" height="19.30" fill="#AFABAB" stroke="#000" stroke-width="1.7"/>
<rect x="915.51" y="289.74" width="19.30" height="19.30" fill="#AFABAB" stroke="#000" stroke-width="1.7"/>
<rect x="916.80" y="289.23" width="19.30" height="19.30" fill="#AFABAB" stroke="#000" stroke-width="1.7"/>
<rect x="918.09" y="288.72" width="19.30" height="19.30" fill="#AFABAB" stroke="#000" stroke-width="1.7"/>
<rect x="919.39" y="288.21" width="19.30" height="19.30" fill="#AFABAB" stroke="#000" stroke-width="1.7"/>
<rect x="920.68" y="287.70" width="19.30" height="19.30" fill="#AFABAB" stroke="#000" stroke-width="1.7"/>
<rect x="921.97" y="287.19" width="19.30" height="19.30" fill="#AFABAB" stroke="#000" stroke-width="1.7"/>
<rect x="923.26" y="286.67" width="19.30" height="19.30" fill="#AFABAB" stroke="#000" stroke-width="1.7"/>
<rect x="924.80" y="286.67" width="19.30" height="19.30" fill="#AFABAB" stroke="#000" stroke-width="1.7"/>
<rect x="935.30" y="279.99" width="19.30" height="19.30" fill="#AFABAB" stroke="#000" stroke-width="1.7"/>
<rect x="949.38" y="268.74" width="19.30" height="19.30" fill="#AFABAB" stroke="#000" stroke-width="1.7"/>
<rect x="950.20" y="268.30" width="19.30" height="19.30" fill="#AFABAB" stroke="#000" stroke-width="1.7"/>
<rect x="951.01" y="267.85" width="19.30" height="19.30" fill="#AFABAB" stroke="#000" stroke-width="1.7"/>
<rect x="951.83" y="267.40" width="19.30" height="19.30" fill="#AFABAB" stroke="#000" stroke-width="1.7"/>
<rect x="952.64" y="266.95" width="19.30" height="19.30" fill="#AFABAB" stroke="#000" stroke-width="1.7"/>
<rect x="953.46" y="266.51" width="19.30" height="19.30" fill="#AFABAB" stroke="#000" stroke-width="1.7"/>
<rect x="954.27" y="266.06" width="19.30" height="19.30" fill="#AFABAB" stroke="#000" stroke-width="1.7"/>
<rect x="955.09" y="265.61" width="19.30" height="19.30" fill="#AFABAB" stroke="#000" stroke-width="1.7"/>
<rect x="955.90" y="265.16" width="19.30" height="19.30" fill="#AFABAB" stroke="#000" stroke-width="1.7"/>
<rect x="956.72" y="264.72" width="19.30" height="19.30" fill="#AFABAB" stroke="#000" stroke-width="1.7"/>
<rect x="957.53" y="264.27" width="19.30" height="19.30" fill="#AFABAB" stroke="#000" stroke-width="1.7"/>
<rect x="958.35" y="263.82" width="19.30" height="19.30" fill="#AFABAB" stroke="#000" stroke-width="1.7"/>
<rect x="959.37" y="263.12" width="19.30" height="19.30" fill="#AFABAB" stroke="#000" stroke-width="1.7"/>
<rect x="962.02" y="259.97" width="19.30" height="19.30" fill="#AFABAB" stroke="#000" stroke-width="1.7"/>
<rect x="964.67" y="256.36" width="19.30" height="19.30" fill="#AFABAB" stroke="#000" stroke-width="1.7"/>
<rect x="967.31" y="253.34" width="19.30" height="19.30" fill="#AFABAB" stroke="#000" stroke-width="1.7"/>
<rect x="969.96" y="250.88" width="19.30" height="19.30" fill="#AFABAB" stroke="#000" stroke-width="1.7"/>
<rect x="972.60" y="248.01" width="19.30" height="19.30" fill="#AFABAB" stroke="#000" stroke-width="1.7"/>
<rect x="975.25" y="243.86" width="19.30" height="19.30" fill="#AFABAB" stroke="#000" stroke-width="1.7"/>
<rect x="977.90" y="241.00" width="19.30" height="19.30" fill="#AFABAB" stroke="#000" stroke-width="1.7"/>
<rect x="980.54" y="237.76" width="19.30" height="19.30" fill="#AFABAB" stroke="#000" stroke-width="1.7"/>
<rect x="983.19" y="234.52" width="19.30" height="19.30" fill="#AFABAB" stroke="#000" stroke-width="1.7"/>
<rect x="985.84" y="231.50" width="19.30" height="19.30" fill="#AFABAB" stroke="#000" stroke-width="1.7"/>
<rect x="988.48" y="227.80" width="19.30" height="19.30" fill="#AFABAB" stroke="#000" stroke-width="1.7"/>
<rect x="991.13" y="223.74" width="19.30" height="19.30" fill="#AFABAB" stroke="#000" stroke-width="1.7"/>
<rect x="995.48" y="217.41" width="19.30" height="19.30" fill="#AFABAB" stroke="#000" stroke-width="1.7"/>
<rect x="999.58" y="212.49" width="19.30" height="19.30" fill="#AFABAB" stroke="#000" stroke-width="1.7"/>
<rect x="1005.98" y="199.48" width="19.30" height="19.30" fill="#AFABAB" stroke="#000" stroke-width="1.7"/>
<rect x="1010.34" y="197.37" width="19.30" height="19.30" fill="#AFABAB" stroke="#000" stroke-width="1.7"/>
<rect x="1015.20" y="184.36" width="19.30" height="19.30" fill="#AFABAB" stroke="#000" stroke-width="1.7"/>
<rect x="1022.89" y="175.93" width="19.30" height="19.30" fill="#AFABAB" stroke="#000" stroke-width="1.7"/>
<rect x="1027.75" y="164.68" width="19.30" height="19.30" fill="#AFABAB" stroke="#000" stroke-width="1.7"/>
<rect x="1038.25" y="148.85" width="19.30" height="19.30" fill="#AFABAB" stroke="#000" stroke-width="1.7"/>
<rect x="1042.61" y="140.77" width="19.30" height="19.30" fill="#AFABAB" stroke="#000" stroke-width="1.7"/>
<rect x="1053.87" y="123.54" width="19.30" height="19.30" fill="#AFABAB" stroke="#000" stroke-width="1.7"/>
<rect x="1059.76" y="116.51" width="19.30" height="19.30" fill="#AFABAB" stroke="#000" stroke-width="1.7"/>
<rect x="1072.83" y="101.04" width="19.30" height="19.30" fill="#AFABAB" stroke="#000" stroke-width="1.7"/>
<rect x="1081.28" y="96.47" width="19.30" height="19.30" fill="#AFABAB" stroke="#000" stroke-width="1.7"/>
<rect x="1095.36" y="90.49" width="19.30" height="19.30" fill="#AFABAB" stroke="#000" stroke-width="1.7"/>
<rect x="1103.56" y="89.08" width="19.30" height="19.30" fill="#AFABAB" stroke="#000" stroke-width="1.7"/>
<rect x="1107.14" y="88.03" width="19.30" height="19.30" fill="#AFABAB" stroke="#000" stroke-width="1.7"/>
<rect x="1122.00" y="90.84" width="19.30" height="19.30" fill="#AFABAB" stroke="#000" stroke-width="1.7"/>
<rect x="1136.34" y="95.41" width="19.30" height="19.30" fill="#AFABAB" stroke="#000" stroke-width="1.7"/>
<rect x="1138.90" y="96.82" width="19.30" height="19.30" fill="#AFABAB" stroke="#000" stroke-width="1.7"/>
<rect x="1159.13" y="109.48" width="19.30" height="19.30" fill="#AFABAB" stroke="#000" stroke-width="1.7"/>
<rect x="1176.80" y="121.08" width="19.30" height="19.30" fill="#AFABAB" stroke="#000" stroke-width="1.7"/>
<rect x="1178.85" y="123.19" width="19.30" height="19.30" fill="#AFABAB" stroke="#000" stroke-width="1.7"/>
<rect x="1200.36" y="140.77" width="19.30" height="19.30" fill="#AFABAB" stroke="#000" stroke-width="1.7"/>
<polyline points="899.52,295.97 900.70,294.18 901.87,292.35 903.05,290.50 904.23,288.61 905.41,286.69 906.59,284.74 907.76,282.77 908.94,280.77 910.12,278.76 911.30,276.77 912.48,274.77 913.65,272.75 914.83,270.66 916.01,268.48 917.19,266.20 918.37,263.78 919.54,261.18 920.72,258.38 921.90,255.38 923.08,252.21 924.26,248.89 925.43,245.44 926.61,241.90 927.79,238.28 928.97,234.62 930.15,230.93 931.32,227.23 932.50,223.57 933.68,219.95 934.86,216.27 936.04,212.49 937.22,208.64 938.39,204.73 939.57,200.78 940.75,196.81 941.93,192.85 943.11,188.91 944.28,185.02 945.46,181.18 946.64,177.43 947.82,173.78 949.00,170.26 950.17,166.84 951.35,163.48 952.53,160.19 953.71,156.96 954.89,153.77 956.06,150.63 957.24,147.54 958.42,144.47 959.60,141.44 960.78,138.43 961.95,135.45 963.13,132.49 964.31,129.55 965.49,126.66 966.67,123.80 967.84,120.97 969.02,118.20 970.20,115.46 971.38,112.78 972.56,110.14 973.74,107.54 974.91,104.96 976.09,102.41 977.27,99.90 978.45,97.42 979.63,94.98 980.80,92.58 981.98,90.22 983.16,87.89 984.34,85.61 985.52,83.36 986.69,81.13 987.87,78.91 989.05,76.71 990.23,74.55 991.41,72.43 992.58,70.36 993.76,68.35 994.94,66.41 996.12,64.54 997.30,62.75 998.47,61.02 999.65,59.30 1000.83,57.61 1002.01,55.96 1003.19,54.35 1004.36,52.80 1005.54,51.33 1006.72,49.93 1007.90,48.63 1009.08,47.43 1010.25,46.35 1011.43,45.32 1012.61,44.28 1013.79,43.26 1014.97,42.26 1016.15,41.32 1017.32,40.46 1018.50,39.68 1019.68,39.02 1020.86,38.48 1022.04,38.10 1023.21,37.89 1024.39,37.76 1025.57,37.63 1026.75,37.52 1027.93,37.42 1029.10,37.34 1030.28,37.28 1031.46,37.23 1032.64,37.21 1033.82,37.29 1034.99,38.09 1036.17,39.60 1037.35,41.66 1038.53,44.13 1039.71,46.84 1040.88,49.64 1042.06,52.37 1043.24,54.89 1044.42,57.22 1045.60,59.74 1046.77,62.38 1047.95,65.08 1049.13,67.75 1050.31,70.32 1051.49,72.71 1052.67,74.85 1053.84,76.66 1055.02,78.19 1056.20,79.57 1057.38,80.83 1058.56,81.98 1059.73,83.05 1060.91,84.08 1062.09,85.08 1063.27,86.08 1064.45,87.11 1065.62,88.20 1066.80,89.37 1067.98,90.64 1069.16,92.05 1070.34,93.62 1071.51,95.33 1072.69,97.18 1073.87,99.14 1075.05,101.20 1076.23,103.35 1077.40,105.60 1078.58,107.94 1079.76,110.37 1080.94,112.87 1082.12,115.45 1083.29,118.09 1084.47,120.79 1085.65,123.55 1086.83,126.35 1088.01,129.20 1089.19,132.08 1090.36,134.99 1091.54,137.92 1092.72,140.87 1093.90,143.83 1095.08,146.80 1096.25,149.77 1097.43,152.73 1098.61,155.76 1099.79,158.88 1100.97,162.08 1102.14,165.35 1103.32,168.67 1104.50,172.04 1105.68,175.45 1106.86,178.89 1108.03,182.34 1109.21,185.80 1110.39,189.26 1111.57,192.70 1112.75,196.12 1113.92,199.51 1115.10,202.85 1116.28,206.14 1117.46,209.37 1118.64,212.52 1119.81,215.59 1120.99,218.57 1122.17,221.44 1123.35,224.22 1124.53,226.95 1125.70,229.63 1126.88,232.26 1128.06,234.84 1129.24,237.38 1130.42,239.88 1131.60,242.35 1132.77,244.78 1133.95,247.18 1135.13,249.57 1136.31,251.93 1137.49,254.27 1138.66,256.60 1139.84,258.89 1141.02,261.13 1142.20,263.34 1143.38,265.51 1144.55,267.65 1145.73,269.78 1146.91,271.88 1148.09,273.98 1149.27,276.07 1150.44,278.17 1151.62,280.26 1152.80,282.38 1153.98,284.50 1155.16,286.66 1156.33,288.84 1157.51,291.05 1158.69,293.32 1159.87,295.66 1161.05,298.05 1162.22,300.48 1163.40,302.94 1164.58,305.41 1165.76,307.89 1166.94,310.36 1168.12,312.80 1169.29,315.20 1170.47,317.56 1171.65,319.86 1172.83,322.08 1174.01,324.21 1175.18,326.24 1176.36,328.16 1177.54,329.99 1178.72,331.79 1179.90,333.55 1181.07,335.28 1182.25,336.98 1183.43,338.65 1184.61,340.28 1185.79,341.88 1186.96,343.44 1188.14,344.98 1189.32,346.48 1190.50,347.95 1191.68,349.39 1192.85,350.80 1194.03,352.18 1195.21,353.53 1196.39,354.85 1197.57,356.14 1198.74,357.40 1199.92,358.63 1201.10,359.83 1202.28,360.98 1203.46,362.10 1204.63,363.18 1205.81,364.22 1206.99,365.24 1208.17,366.24 1209.35,367.22 1210.53,368.18 1211.70,369.14 1212.88,370.09 1214.06,371.04 1215.24,372.00 1216.42,372.96 1217.59,373.93 1218.77,374.90 1219.95,375.87 1221.13,376.84 1222.31,377.80 1223.48,378.76 1224.66,379.70 1225.84,380.63 1227.02,381.55 1228.20,382.44 1229.37,383.32 1230.55,384.18 1231.73,385.01 1232.91,385.81 1234.09,386.58 1235.26,387.32 1236.44,388.04 1237.62,388.74 1238.80,389.42 1239.98,390.09 1241.15,390.75 1242.33,391.38 1243.51,392.00 1244.69,392.61 1245.87,393.19 1247.05,393.76 1248.22,394.30 1249.40,394.83 1250.58,395.34 1251.76,395.82" fill="none" stroke="#000" stroke-width="3.6" stroke-dasharray="6.400 8.072" stroke-linecap="round" stroke-linejoin="round"/>
<path d="M920.62,234.20L930.36,243.94L920.62,253.68L910.88,243.94Z" fill="#B97DF3" stroke="#000" stroke-width="1.8" stroke-linejoin="miter"/>
<path d="M921.37,232.21L931.11,241.95L921.37,251.69L911.63,241.95Z" fill="#B97DF3" stroke="#000" stroke-width="1.8" stroke-linejoin="miter"/>
<path d="M922.13,230.23L931.87,239.97L922.13,249.71L912.39,239.97Z" fill="#B97DF3" stroke="#000" stroke-width="1.8" stroke-linejoin="miter"/>
<path d="M922.88,228.24L932.62,237.98L922.88,247.72L913.14,237.98Z" fill="#B97DF3" stroke="#000" stroke-width="1.8" stroke-linejoin="miter"/>
<path d="M923.63,226.26L933.37,236.00L923.63,245.74L913.89,236.00Z" fill="#B97DF3" stroke="#000" stroke-width="1.8" stroke-linejoin="miter"/>
<path d="M924.39,224.27L934.13,234.01L924.39,243.75L914.65,234.01Z" fill="#B97DF3" stroke="#000" stroke-width="1.8" stroke-linejoin="miter"/>
<path d="M925.14,222.29L934.88,232.03L925.14,241.77L915.40,232.03Z" fill="#B97DF3" stroke="#000" stroke-width="1.8" stroke-linejoin="miter"/>
<path d="M925.89,220.30L935.63,230.04L925.89,239.78L916.15,230.04Z" fill="#B97DF3" stroke="#000" stroke-width="1.8" stroke-linejoin="miter"/>
<path d="M926.65,218.32L936.39,228.06L926.65,237.80L916.91,228.06Z" fill="#B97DF3" stroke="#000" stroke-width="1.8" stroke-linejoin="miter"/>
<path d="M927.40,216.33L937.14,226.07L927.40,235.81L917.66,226.07Z" fill="#B97DF3" stroke="#000" stroke-width="1.8" stroke-linejoin="miter"/>
<path d="M928.15,214.34L937.89,224.08L928.15,233.82L918.41,224.08Z" fill="#B97DF3" stroke="#000" stroke-width="1.8" stroke-linejoin="miter"/>
<path d="M928.91,212.36L938.65,222.10L928.91,231.84L919.17,222.10Z" fill="#B97DF3" stroke="#000" stroke-width="1.8" stroke-linejoin="miter"/>
<path d="M929.66,210.37L939.40,220.11L929.66,229.85L919.92,220.11Z" fill="#B97DF3" stroke="#000" stroke-width="1.8" stroke-linejoin="miter"/>
<path d="M930.41,208.39L940.15,218.13L930.41,227.87L920.67,218.13Z" fill="#B97DF3" stroke="#000" stroke-width="1.8" stroke-linejoin="miter"/>
<path d="M931.17,206.40L940.91,216.14L931.17,225.88L921.43,216.14Z" fill="#B97DF3" stroke="#000" stroke-width="1.8" stroke-linejoin="miter"/>
<path d="M931.92,204.42L941.66,214.16L931.92,223.90L922.18,214.16Z" fill="#B97DF3" stroke="#000" stroke-width="1.8" stroke-linejoin="miter"/>
<path d="M932.67,202.43L942.41,212.17L932.67,221.91L922.93,212.17Z" fill="#B97DF3" stroke="#000" stroke-width="1.8" stroke-linejoin="miter"/>
<path d="M933.42,200.45L943.16,210.19L933.42,219.93L923.68,210.19Z" fill="#B97DF3" stroke="#000" stroke-width="1.8" stroke-linejoin="miter"/>
<path d="M918.83,236.31L928.57,246.05L918.83,255.79L909.09,246.05Z" fill="#B97DF3" stroke="#000" stroke-width="1.8" stroke-linejoin="miter"/>
<path d="M918.06,243.34L927.80,253.08L918.06,262.82L908.32,253.08Z" fill="#B97DF3" stroke="#000" stroke-width="1.8" stroke-linejoin="miter"/>
<path d="M933.42,200.45L943.16,210.19L933.42,219.93L923.68,210.19Z" fill="#B97DF3" stroke="#000" stroke-width="1.8" stroke-linejoin="miter"/>
<path d="M934.45,196.23L944.19,205.97L934.45,215.71L924.71,205.97Z" fill="#B97DF3" stroke="#000" stroke-width="1.8" stroke-linejoin="miter"/>
<path d="M943.93,173.02L953.67,182.76L943.93,192.50L934.19,182.76Z" fill="#B97DF3" stroke="#000" stroke-width="1.8" stroke-linejoin="miter"/>
<path d="M945.72,176.54L955.46,186.28L945.72,196.02L935.98,186.28Z" fill="#B97DF3" stroke="#000" stroke-width="1.8" stroke-linejoin="miter"/>
<path d="M954.68,139.97L964.42,149.71L954.68,159.45L944.94,149.71Z" fill="#B97DF3" stroke="#000" stroke-width="1.8" stroke-linejoin="miter"/>
<path d="M955.68,137.97L965.42,147.71L955.68,157.45L945.94,147.71Z" fill="#B97DF3" stroke="#000" stroke-width="1.8" stroke-linejoin="miter"/>
<path d="M956.69,135.96L966.43,145.70L956.69,155.44L946.95,145.70Z" fill="#B97DF3" stroke="#000" stroke-width="1.8" stroke-linejoin="miter"/>
<path d="M957.69,133.95L967.43,143.69L957.69,153.43L947.95,143.69Z" fill="#B97DF3" stroke="#000" stroke-width="1.8" stroke-linejoin="miter"/>
<path d="M958.69,131.94L968.43,141.68L958.69,151.42L948.95,141.68Z" fill="#B97DF3" stroke="#000" stroke-width="1.8" stroke-linejoin="miter"/>
<path d="M959.69,129.93L969.43,139.67L959.69,149.41L949.95,139.67Z" fill="#B97DF3" stroke="#000" stroke-width="1.8" stroke-linejoin="miter"/>
<path d="M960.69,127.93L970.43,137.67L960.69,147.41L950.95,137.67Z" fill="#B97DF3" stroke="#000" stroke-width="1.8" stroke-linejoin="miter"/>
<path d="M961.70,125.92L971.44,135.66L961.70,145.40L951.96,135.66Z" fill="#B97DF3" stroke="#000" stroke-width="1.8" stroke-linejoin="miter"/>
<path d="M962.70,123.91L972.44,133.65L962.70,143.39L952.96,133.65Z" fill="#B97DF3" stroke="#000" stroke-width="1.8" stroke-linejoin="miter"/>
<path d="M963.70,121.90L973.44,131.64L963.70,141.38L953.96,131.64Z" fill="#B97DF3" stroke="#000" stroke-width="1.8" stroke-linejoin="miter"/>
<path d="M964.70,119.89L974.44,129.63L964.70,139.37L954.96,129.63Z" fill="#B97DF3" stroke="#000" stroke-width="1.8" stroke-linejoin="miter"/>
<path d="M965.70,117.87L975.44,127.61L965.70,137.35L955.96,127.61Z" fill="#B97DF3" stroke="#000" stroke-width="1.8" stroke-linejoin="miter"/>
<path d="M966.71,115.85L976.45,125.59L966.71,135.33L956.97,125.59Z" fill="#B97DF3" stroke="#000" stroke-width="1.8" stroke-linejoin="miter"/>
<path d="M967.71,113.84L977.45,123.58L967.71,133.32L957.97,123.58Z" fill="#B97DF3" stroke="#000" stroke-width="1.8" stroke-linejoin="miter"/>
<path d="M968.71,111.82L978.45,121.56L968.71,131.30L958.97,121.56Z" fill="#B97DF3" stroke="#000" stroke-width="1.8" stroke-linejoin="miter"/>
<path d="M969.71,109.80L979.45,119.54L969.71,129.28L959.97,119.54Z" fill="#B97DF3" stroke="#000" stroke-width="1.8" stroke-linejoin="miter"/>
<path d="M970.72,107.78L980.46,117.52L970.72,127.26L960.98,117.52Z" fill="#B97DF3" stroke="#000" stroke-width="1.8" stroke-linejoin="miter"/>
<path d="M971.72,105.77L981.46,115.51L971.72,125.25L961.98,115.51Z" fill="#B97DF3" stroke="#000" stroke-width="1.8" stroke-linejoin="miter"/>
<path d="M972.72,103.79L982.46,113.53L972.72,123.27L962.98,113.53Z" fill="#B97DF3" stroke="#000" stroke-width="1.8" stroke-linejoin="miter"/>
<path d="M973.72,101.83L983.46,111.57L973.72,121.31L963.98,111.57Z" fill="#B97DF3" stroke="#000" stroke-width="1.8" stroke-linejoin="miter"/>
<path d="M974.72,99.86L984.46,109.60L974.72,119.34L964.98,109.60Z" fill="#B97DF3" stroke="#000" stroke-width="1.8" stroke-linejoin="miter"/>
<path d="M975.73,97.90L985.47,107.64L975.73,117.38L965.99,107.64Z" fill="#B97DF3" stroke="#000" stroke-width="1.8" stroke-linejoin="miter"/>
<path d="M976.73,95.93L986.47,105.67L976.73,115.41L966.99,105.67Z" fill="#B97DF3" stroke="#000" stroke-width="1.8" stroke-linejoin="miter"/>
<path d="M977.73,93.97L987.47,103.71L977.73,113.45L967.99,103.71Z" fill="#B97DF3" stroke="#000" stroke-width="1.8" stroke-linejoin="miter"/>
<path d="M979.52,93.61L989.26,103.35L979.52,113.09L969.78,103.35Z" fill="#B97DF3" stroke="#000" stroke-width="1.8" stroke-linejoin="miter"/>
<path d="M982.35,79.68L992.09,89.42L982.35,99.16L972.61,89.42Z" fill="#B97DF3" stroke="#000" stroke-width="1.8" stroke-linejoin="miter"/>
<path d="M985.18,77.66L994.92,87.40L985.18,97.14L975.44,87.40Z" fill="#B97DF3" stroke="#000" stroke-width="1.8" stroke-linejoin="miter"/>
<path d="M988.01,68.95L997.75,78.69L988.01,88.43L978.27,78.69Z" fill="#B97DF3" stroke="#000" stroke-width="1.8" stroke-linejoin="miter"/>
<path d="M990.85,67.83L1000.59,77.57L990.85,87.31L981.11,77.57Z" fill="#B97DF3" stroke="#000" stroke-width="1.8" stroke-linejoin="miter"/>
<path d="M993.68,60.03L1003.42,69.77L993.68,79.51L983.94,69.77Z" fill="#B97DF3" stroke="#000" stroke-width="1.8" stroke-linejoin="miter"/>
<path d="M996.51,56.08L1006.25,65.82L996.51,75.56L986.77,65.82Z" fill="#B97DF3" stroke="#000" stroke-width="1.8" stroke-linejoin="miter"/>
<path d="M999.34,49.18L1009.08,58.92L999.34,68.66L989.60,58.92Z" fill="#B97DF3" stroke="#000" stroke-width="1.8" stroke-linejoin="miter"/>
<path d="M1002.17,50.15L1011.91,59.89L1002.17,69.63L992.43,59.89Z" fill="#B97DF3" stroke="#000" stroke-width="1.8" stroke-linejoin="miter"/>
<path d="M1005.00,43.32L1014.74,53.06L1005.00,62.80L995.26,53.06Z" fill="#B97DF3" stroke="#000" stroke-width="1.8" stroke-linejoin="miter"/>
<path d="M1007.83,44.66L1017.57,54.40L1007.83,64.14L998.09,54.40Z" fill="#B97DF3" stroke="#000" stroke-width="1.8" stroke-linejoin="miter"/>
<path d="M1010.66,34.52L1020.40,44.26L1010.66,54.00L1000.92,44.26Z" fill="#B97DF3" stroke="#000" stroke-width="1.8" stroke-linejoin="miter"/>
<path d="M1013.49,36.20L1023.23,45.94L1013.49,55.68L1003.75,45.94Z" fill="#B97DF3" stroke="#000" stroke-width="1.8" stroke-linejoin="miter"/>
<path d="M1016.32,30.28L1026.06,40.02L1016.32,49.76L1006.58,40.02Z" fill="#B97DF3" stroke="#000" stroke-width="1.8" stroke-linejoin="miter"/>
<path d="M1019.15,31.95L1028.89,41.69L1019.15,51.43L1009.41,41.69Z" fill="#B97DF3" stroke="#000" stroke-width="1.8" stroke-linejoin="miter"/>
<path d="M1021.98,26.94L1031.72,36.68L1021.98,46.42L1012.24,36.68Z" fill="#B97DF3" stroke="#000" stroke-width="1.8" stroke-linejoin="miter"/>
<path d="M1024.81,27.05L1034.55,36.79L1024.81,46.53L1015.07,36.79Z" fill="#B97DF3" stroke="#000" stroke-width="1.8" stroke-linejoin="miter"/>
<path d="M1027.64,24.21L1037.38,33.95L1027.64,43.69L1017.90,33.95Z" fill="#B97DF3" stroke="#000" stroke-width="1.8" stroke-linejoin="miter"/>
<path d="M1030.47,28.54L1040.21,38.28L1030.47,48.02L1020.73,38.28Z" fill="#B97DF3" stroke="#000" stroke-width="1.8" stroke-linejoin="miter"/>
<path d="M1033.30,24.85L1043.04,34.59L1033.30,44.33L1023.56,34.59Z" fill="#B97DF3" stroke="#000" stroke-width="1.8" stroke-linejoin="miter"/>
<path d="M1037.15,31.62L1046.89,41.36L1037.15,51.10L1027.41,41.36Z" fill="#B97DF3" stroke="#000" stroke-width="1.8" stroke-linejoin="miter"/>
<path d="M1043.55,32.44L1053.29,42.18L1043.55,51.92L1033.81,42.18Z" fill="#B97DF3" stroke="#000" stroke-width="1.8" stroke-linejoin="miter"/>
<path d="M1050.97,37.31L1060.71,47.05L1050.97,56.79L1041.23,47.05Z" fill="#B97DF3" stroke="#000" stroke-width="1.8" stroke-linejoin="miter"/>
<path d="M1065.06,54.19L1074.80,63.93L1065.06,73.67L1055.32,63.93Z" fill="#B97DF3" stroke="#000" stroke-width="1.8" stroke-linejoin="miter"/>
<path d="M1068.90,68.25L1078.64,77.99L1068.90,87.73L1059.16,77.99Z" fill="#B97DF3" stroke="#000" stroke-width="1.8" stroke-linejoin="miter"/>
<path d="M1070.18,69.66L1079.92,79.40L1070.18,89.14L1060.44,79.40Z" fill="#B97DF3" stroke="#000" stroke-width="1.8" stroke-linejoin="miter"/>
<path d="M1081.19,101.30L1090.93,111.04L1081.19,120.78L1071.45,111.04Z" fill="#B97DF3" stroke="#000" stroke-width="1.8" stroke-linejoin="miter"/>
<path d="M1085.55,104.11L1095.29,113.85L1085.55,123.59L1075.81,113.85Z" fill="#B97DF3" stroke="#000" stroke-width="1.8" stroke-linejoin="miter"/>
<path d="M1090.16,123.10L1099.90,132.84L1090.16,142.58L1080.42,132.84Z" fill="#B97DF3" stroke="#000" stroke-width="1.8" stroke-linejoin="miter"/>
<path d="M1104.50,164.59L1114.24,174.33L1104.50,184.07L1094.76,174.33Z" fill="#B97DF3" stroke="#000" stroke-width="1.8" stroke-linejoin="miter"/>
<path d="M1111.67,178.65L1121.41,188.39L1111.67,198.13L1101.93,188.39Z" fill="#B97DF3" stroke="#000" stroke-width="1.8" stroke-linejoin="miter"/>
<path d="M1116.02,194.12L1125.76,203.86L1116.02,213.60L1106.28,203.86Z" fill="#B97DF3" stroke="#000" stroke-width="1.8" stroke-linejoin="miter"/>
<path d="M1131.39,237.01L1141.13,246.75L1131.39,256.49L1121.65,246.75Z" fill="#B97DF3" stroke="#000" stroke-width="1.8" stroke-linejoin="miter"/>
<path d="M1145.73,256.00L1155.47,265.74L1145.73,275.48L1135.99,265.74Z" fill="#B97DF3" stroke="#000" stroke-width="1.8" stroke-linejoin="miter"/>
<path d="M1148.04,270.76L1157.78,280.50L1148.04,290.24L1138.30,280.50Z" fill="#B97DF3" stroke="#000" stroke-width="1.8" stroke-linejoin="miter"/>
<path d="M1168.52,305.92L1178.26,315.66L1168.52,325.40L1158.78,315.66Z" fill="#B97DF3" stroke="#000" stroke-width="1.8" stroke-linejoin="miter"/>
<path d="M1185.94,331.94L1195.68,341.68L1185.94,351.42L1176.20,341.68Z" fill="#B97DF3" stroke="#000" stroke-width="1.8" stroke-linejoin="miter"/>
<path d="M1188.76,334.75L1198.50,344.49L1188.76,354.23L1179.02,344.49Z" fill="#B97DF3" stroke="#000" stroke-width="1.8" stroke-linejoin="miter"/>
<path d="M1210.01,357.96L1219.75,367.70L1210.01,377.44L1200.27,367.70Z" fill="#B97DF3" stroke="#000" stroke-width="1.8" stroke-linejoin="miter"/>
<text transform="translate(817.65,445.85) scale(1.0000,1)" font-size="33.30" fill="#000">0</text>
<text transform="translate(817.65,375.70) scale(1.0000,1)" font-size="33.30" fill="#000">2</text>
<text transform="translate(816.48,305.21) scale(1.0000,1)" font-size="33.30" fill="#000">4</text>
<text transform="translate(817.48,234.90) scale(1.0000,1)" font-size="33.30" fill="#000">6</text>
<text transform="translate(817.32,164.58) scale(1.0000,1)" font-size="33.30" fill="#000">8</text>
<text transform="translate(799.17,94.26) scale(1.0000,1)" font-size="33.30" fill="#000">10</text>
<text transform="translate(799.17,24.11) scale(1.0000,1)" font-size="33.30" fill="#000">12</text>
<text transform="translate(860.24,492.74) scale(1.0000,1)" font-size="33.00" fill="#000">0</text>
<text transform="translate(979.26,492.74) scale(1.0000,1)" font-size="33.00" fill="#000">50</text>
<text transform="translate(1097.62,492.74) scale(1.0000,1)" font-size="33.00" fill="#000">100</text>
<text transform="translate(1225.66,492.74) scale(1.0000,1)" font-size="33.00" fill="#000">150</text>
<text transform="translate(1354.17,492.74) scale(1.0000,1)" font-size="33.00" fill="#000">200</text>
<text transform="translate(1414.18,445.54) scale(1.0000,1)" font-size="33.00" fill="#9E66D2">0</text>
<text transform="translate(1413.44,375.23) scale(1.0000,1)" font-size="33.00" fill="#9E66D2">1</text>
<text transform="translate(1414.35,305.08) scale(1.0000,1)" font-size="33.00" fill="#9E66D2">2</text>
<text transform="translate(1414.76,234.55) scale(1.0000,1)" font-size="33.00" fill="#9E66D2">3</text>
<text transform="translate(1415.01,164.28) scale(1.0000,1)" font-size="33.00" fill="#9E66D2">4</text>
<text transform="translate(1414.43,93.80) scale(1.0000,1)" font-size="33.00" fill="#9E66D2">5</text>
<text transform="translate(1414.26,23.64) scale(1.0000,1)" font-size="33.00" fill="#9E66D2">6</text>
<text transform="translate(981.75,541.60) scale(0.9619,1)" font-size="37.30" fill="#000">Temperature [°C]</text>
<text transform="translate(781.60,426.80) rotate(-90) scale(0.9535,1)" font-size="37.30" fill="#000">Dielectric Constant ε' [-]</text>
<text transform="translate(1479.20,363.40) rotate(-90) scale(0.9125,1)" font-size="37.30" fill="#9E66D2">Loss Factor ε'' [-]</text>
<text transform="translate(1318.07,75.20) scale(1.0043,1)" font-size="55.60" fill="#000">b</text>
<text transform="translate(887.94,415.00) scale(0.9250,1)" font-size="41.00" fill="#000">Isopropanol</text>
</svg>
</body></html>
